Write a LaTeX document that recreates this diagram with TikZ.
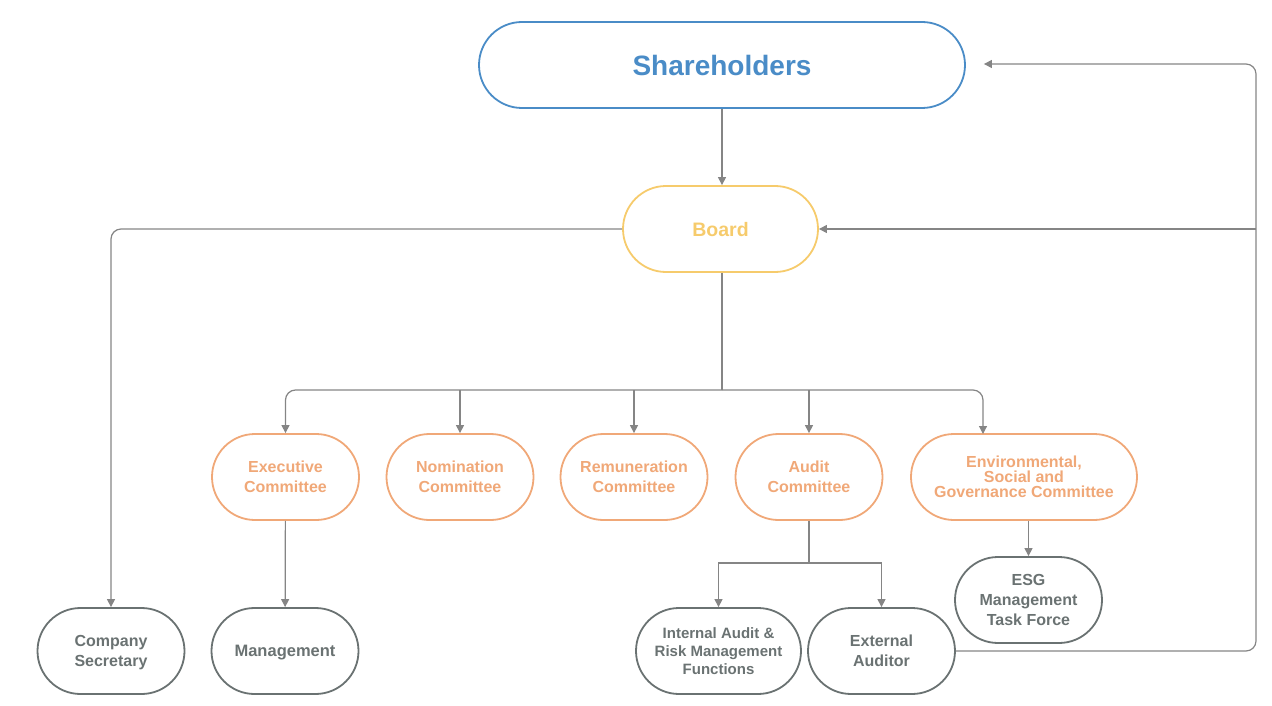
\documentclass[tikz,border=0pt]{standalone}
\usepackage{fontspec}
\setmainfont{Liberation Sans}
\usetikzlibrary{arrows.meta}
\definecolor{shblue}{HTML}{4A8CC7}
\definecolor{bdyellow}{HTML}{F6CB6C}
\definecolor{cmorange}{HTML}{F0A878}
\definecolor{unitgray}{HTML}{6A7272}
\definecolor{linegray}{HTML}{858585}
\begin{document}
\begin{tikzpicture}[x=1pt, y=-1pt,
    pill/.style = {draw, line width=1.8pt, rounded corners=43pt, minimum height=86pt,
      inner sep=0pt, text depth=0pt, align=center, font=\bfseries\fontsize{16}{20}\selectfont},
    top/.style = {pill, draw=shblue, text=shblue, minimum width=486pt,
      font=\bfseries\fontsize{28}{34}\selectfont},
    board/.style = {pill, draw=bdyellow, text=bdyellow, minimum width=195pt,
      font=\bfseries\fontsize{19.5}{24}\selectfont},
    cmte/.style = {pill, draw=cmorange, text=cmorange, minimum width=147pt},
    unit/.style = {pill, draw=unitgray, text=unitgray, minimum width=147pt},
    link/.style = {draw=linegray, line width=1.2pt, -{Triangle[width=8pt,length=8pt]}},
    wire/.style = {draw=linegray, line width=1.2pt}]
  \useasboundingbox (0,0) rectangle (1272,706);

  \node[top] (SH) at (722,65) {Shareholders};
  \node[board] (BD) at (720.5,229) {Board};

  \foreach \n/\x/\t in {EC/285.5/{Executive\\Committee}, NC/460/{Nomination\\Committee},
                        RC/634/{Remuneration\\Committee}, AC/809/{Audit\\Committee}} {
    \node[cmte] (\n) at (\x,477) {\t};
  }
  \node[cmte, minimum width=226pt, font=\bfseries\fontsize{16}{15}\selectfont]
    (ESG) at (1024,477) {Environmental,\\Social and\\Governance Committee};

  \node[unit] (CS) at (111,651) {Company\\Secretary};
  \node[unit, font=\bfseries\fontsize{16.5}{20}\selectfont] (MG) at (285,651) {Management};
  \node[unit, minimum width=165pt, font=\bfseries\fontsize{15}{18}\selectfont]
    (IA) at (718.5,651) {Internal Audit \&\\Risk Management\\Functions};
  \node[unit] (EA) at (881.5,651) {External\\Auditor};
  \node[unit] (TF) at (1028.5,600) {ESG\\Management\\Task Force};

  \coordinate (hub) at (722,390);
  \coordinate (split) at (809,563);
  \coordinate (ret) at (1256,64);

  \draw[link] (SH.south -| hub) -- (BD.north -| hub);
  \draw[link, rounded corners=10pt] (BD.west) -| (CS.north);
  \draw[wire] (BD.south -| hub) -- (hub);
  \draw[link, rounded corners=10pt] (hub) -| (EC.north);
  \draw[link, rounded corners=10pt] (hub) -| (983,434);
  \foreach \n in {NC, RC, AC} {
    \draw[link] (\n.north |- hub) -- (\n.north);
  }
  \draw[link] (EC) -- (MG);
  \draw[wire] (AC) -- (split);
  \foreach \n in {IA, EA} {
    \draw[link] (split) -| (\n.north);
  }
  \draw[link] (ESG.south -| TF.north) -- (TF.north);
  \draw[link, rounded corners=10pt] (EA.east) -| (ret) -- ([xshift=18pt]SH.east |- ret);
  \draw[link] (ret |- BD.east) -- (BD.east);
\end{tikzpicture}
\end{document}
